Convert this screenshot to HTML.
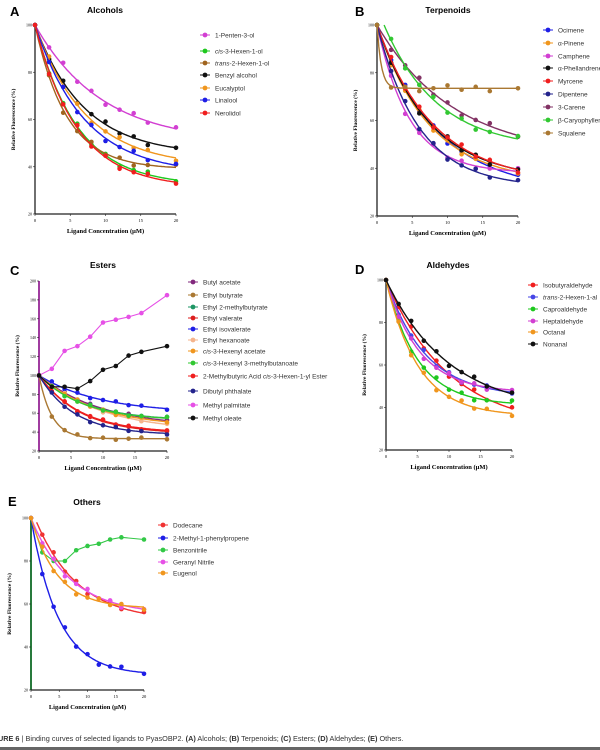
<!DOCTYPE html>
<html><head><meta charset="utf-8"><style>
html,body{margin:0;padding:0;background:#fff;width:600px;height:750px;overflow:hidden}
</style></head><body>
<svg id="s" width="600" height="750" xmlns="http://www.w3.org/2000/svg" font-family="Liberation Sans, sans-serif"></svg>
<script>
const S=document.getElementById('s');let h='';
const X=[0,2,4,6,8,10,12,14,16,18,20];
function panel(p){
 const sx=v=>p.x0+(p.x1-p.x0)*v/20, sy=v=>p.y0+(p.yb-p.y0)*(p.ymax-v)/(p.ymax-20);
 h+=`<text x="${p.lx}" y="${p.ly}" font-size="13" font-weight="bold">${p.L}</text>`;
 h+=`<text x="${p.tx}" y="${p.ty}" font-size="8.5" font-weight="bold" text-anchor="middle">${p.title}</text>`;
 h+=`<line x1="${p.x0}" y1="${p.y0}" x2="${p.x0}" y2="${p.yb}" stroke="${p.axc||'#222'}" stroke-width="${p.axc?2:1.3}"/>`;
 h+=`<line x1="${p.x0}" y1="${p.yb}" x2="${p.x1}" y2="${p.yb}" stroke="#222" stroke-width="1.3"/>`;
 for(let v=20;v<=p.ymax;v+=20){const y=sy(v);h+=`<line x1="${p.x0-2}" x2="${p.x0}" y1="${y}" y2="${y}" stroke="#222" stroke-width=".6"/><text x="${p.x0-3}" y="${y+1.5}" font-size="4" text-anchor="end" font-family="Liberation Serif,serif">${v}</text>`;}
 for(let v=0;v<=20;v+=5){const x=sx(v);h+=`<line x1="${x}" x2="${x}" y1="${p.yb}" y2="${p.yb+2}" stroke="#222" stroke-width=".6"/><text x="${x}" y="${p.yb+8}" font-size="4.5" text-anchor="middle" font-family="Liberation Serif,serif">${v}</text>`;}
 h+=`<text x="${(p.x0+p.x1)/2}" y="${p.yb+19}" font-size="6.5" font-weight="bold" text-anchor="middle" font-family="Liberation Serif,serif">Ligand Concentration (μM)</text>`;
 const cy=(p.y0+p.yb)/2;
 h+=`<text transform="translate(${p.x0-20},${cy}) rotate(-90)" font-size="5.5" font-weight="bold" text-anchor="middle" font-family="Liberation Serif,serif">Relative Fluorescence (%)</text>`;
 p.series.forEach((s,i)=>{
  const ly=p.legY[i];
  h+=`<line x1="${p.legX-5}" x2="${p.legX+5}" y1="${ly}" y2="${ly}" stroke="${s.c}" stroke-width="1"/><circle cx="${p.legX}" cy="${ly}" r="2.4" fill="${s.c}"/>`;
  h+=`<text x="${p.legX+10}" y="${ly+2.3}" font-size="6.5" fill="#333">${s.n}</text>`;
  let pts;
  if(s.pts){pts=s.pts;h+=`<polyline fill="none" stroke="${s.c}" stroke-width="1.1" points="${pts.map(q=>sx(q[0])+','+sy(q[1])).join(' ')}"/>`;}
  else{
   const f=x=>{const xx=Math.max(0,x-(s.o||0));return s.P+(s.s||(100-s.P))*Math.exp(-xx/s.t);};
   let d='';for(let x=(s.o||0);x<=20.001;x+=0.25)d+=(d?' L':'M')+sx(x).toFixed(1)+' '+sy(f(x)).toFixed(1);
   h+=`<path d="${d}" fill="none" stroke="${s.c}" stroke-width="1.4"/>`;
   pts=X.filter(x=>x!==18).map((x,j)=>[x,x==0?100:f(x)+((j*7+i*3)%5-2)*0.6]);
  }
  pts.forEach(q=>{h+=`<circle cx="${sx(q[0])}" cy="${sy(q[1])}" r="2.3" fill="${s.c}"/>`;});
 });
}
panel({L:'A',lx:10,ly:16,title:'Alcohols',tx:105,ty:13,x0:35,x1:176,y0:25,yb:214,ymax:100,legX:205,legY:[35,51,63,75,88,100,113],series:[
{n:'1-Penten-3-ol',c:'#d23fd2',P:50,t:9.5},{n:'<tspan font-style="italic">cis</tspan>-3-Hexen-1-ol',c:'#1ec81e',P:32,t:6},
{n:'<tspan font-style="italic">trans</tspan>-2-Hexen-1-ol',c:'#a0641e',P:39,t:4.5},{n:'Benzyl alcohol',c:'#111',P:45,t:6.9},
{n:'Eucalyptol',c:'#f0961e',P:40,t:7.2},{n:'Linalool',c:'#1e1ee6',P:37,t:7},{n:'Nerolidol',c:'#f01e1e',P:31,t:6}]});
panel({L:'B',lx:355,ly:16,title:'Terpenoids',tx:448,ty:13,x0:377,x1:518,y0:25,yb:216,ymax:100,legX:548,legY:[30,43,56,68,81,94,107,120,133],series:[
{n:'Ocimene',c:'#1e1ee6',P:30,t:8.5},{n:'α-Pinene',c:'#f0961e',P:34,t:7.4},{n:'Camphene',c:'#d23fd2',P:38,t:4.6},
{n:'α-Phellandrene',c:'#111',P:35,t:7.5},{n:'Myrcene',c:'#f01e1e',P:34,t:8},{n:'Dipentene',c:'#23238c',P:32,t:6},
{n:'3-Carene',c:'#823264',P:45,t:10.9},{n:'β-Caryophyllene',c:'#32c832',P:48,s:52,o:1,t:7.6},{n:'Squalene',c:'#aa7832',P:73.5,t:0.6}]});
panel({L:'C',lx:10,ly:275,title:'Esters',tx:103,ty:268,x0:39,x1:167,y0:281,yb:451,ymax:200,legX:193,legY:[282,295,307,318,329,340,351,363,376,391,405,418],axc:'#a03ca0',series:[
{n:'Butyl acetate',c:'#82287d',P:45,t:9.8},{n:'Ethyl butyrate',c:'#aa7832',P:33,t:2},{n:'Ethyl 2-methylbutyrate',c:'#1e9664',P:52,t:7.2},
{n:'Ethyl valerate',c:'#dc1e1e',P:38,t:6.5},{n:'Ethyl isovalerate',c:'#1e1ee6',P:60,t:9.5},{n:'Ethyl hexanoate',c:'#f5b48c',P:40,t:10},
{n:'<tspan font-style="italic">cis</tspan>-3-Hexenyl acetate',c:'#f0961e',P:45,t:9},{n:'<tspan font-style="italic">cis</tspan>-3-Hexenyl 3-methylbutanoate',c:'#32c832',P:52,t:7},
{n:'2-Methylbutyric Acid <tspan font-style="italic">cis</tspan>-3-Hexen-1-yl Ester',c:'#f01e1e',P:39,t:6.5},{n:'Dibutyl phthalate',c:'#23238c',P:37,t:5.5},
{n:'Methyl palmitate',c:'#e650e6',pts:[[0,100],[2,107],[4,126],[6,131],[8,141],[10,156],[12,159],[14,162],[16,166],[20,185]]},
{n:'Methyl oleate',c:'#111',pts:[[0,100],[2,88],[4,88],[6,86],[8,94],[10,106],[12,110],[14,121],[16,125],[20,131]]}]});
panel({L:'D',lx:355,ly:274,title:'Aldehydes',tx:448,ty:268,x0:386,x1:512,y0:280,yb:450,ymax:100,legX:533,legY:[285,297,309,321,332,344],series:[
{n:'Isobutyraldehyde',c:'#f01e1e',P:30,t:10},{n:'<tspan font-style="italic">trans</tspan>-2-Hexen-1-al',c:'#4646e6',P:45,t:6.2},
{n:'Caproaldehyde',c:'#1ec81e',P:41,t:5},{n:'Heptaldehyde',c:'#d23fd2',P:47,t:5.3},{n:'Octanal',c:'#f0961e',P:36,t:5.1},{n:'Nonanal',c:'#111',P:38,t:10}]});
panel({L:'E',lx:8,ly:506,title:'Others',tx:87,ty:505,x0:31,x1:144,y0:518,yb:690,ymax:100,legX:163,legY:[525,538,550,562,573],axc:'#287a3c',series:[
{n:'Dodecane',c:'#f03232',P:52,s:46,o:1,t:7.5},{n:'2-Methyl-1-phenylpropene',c:'#1e1ee6',P:27,t:4.8},
{n:'Benzonitrile',c:'#32c846',pts:[[0,100],[2,84],[4,80],[6,80],[8,85],[10,87],[12,88],[14,90],[16,91],[20,90]]},
{n:'Geranyl Nitrile',c:'#e650e6',P:55,t:7},{n:'Eugenol',c:'#f0961e',P:58,t:4.7}]});
h+=`<text x="-2" y="741" font-size="7.3" fill="#333"><tspan font-weight="bold">URE 6</tspan> | Binding curves of selected ligands to PyasOBP2. <tspan font-weight="bold">(A)</tspan> Alcohols; <tspan font-weight="bold">(B)</tspan> Terpenoids; <tspan font-weight="bold">(C)</tspan> Esters; <tspan font-weight="bold">(D)</tspan> Aldehydes; <tspan font-weight="bold">(E)</tspan> Others.</text>`;
h+=`<rect x="0" y="747" width="600" height="3" fill="#666"/>`;
S.innerHTML=h;
</script>
</body></html>
